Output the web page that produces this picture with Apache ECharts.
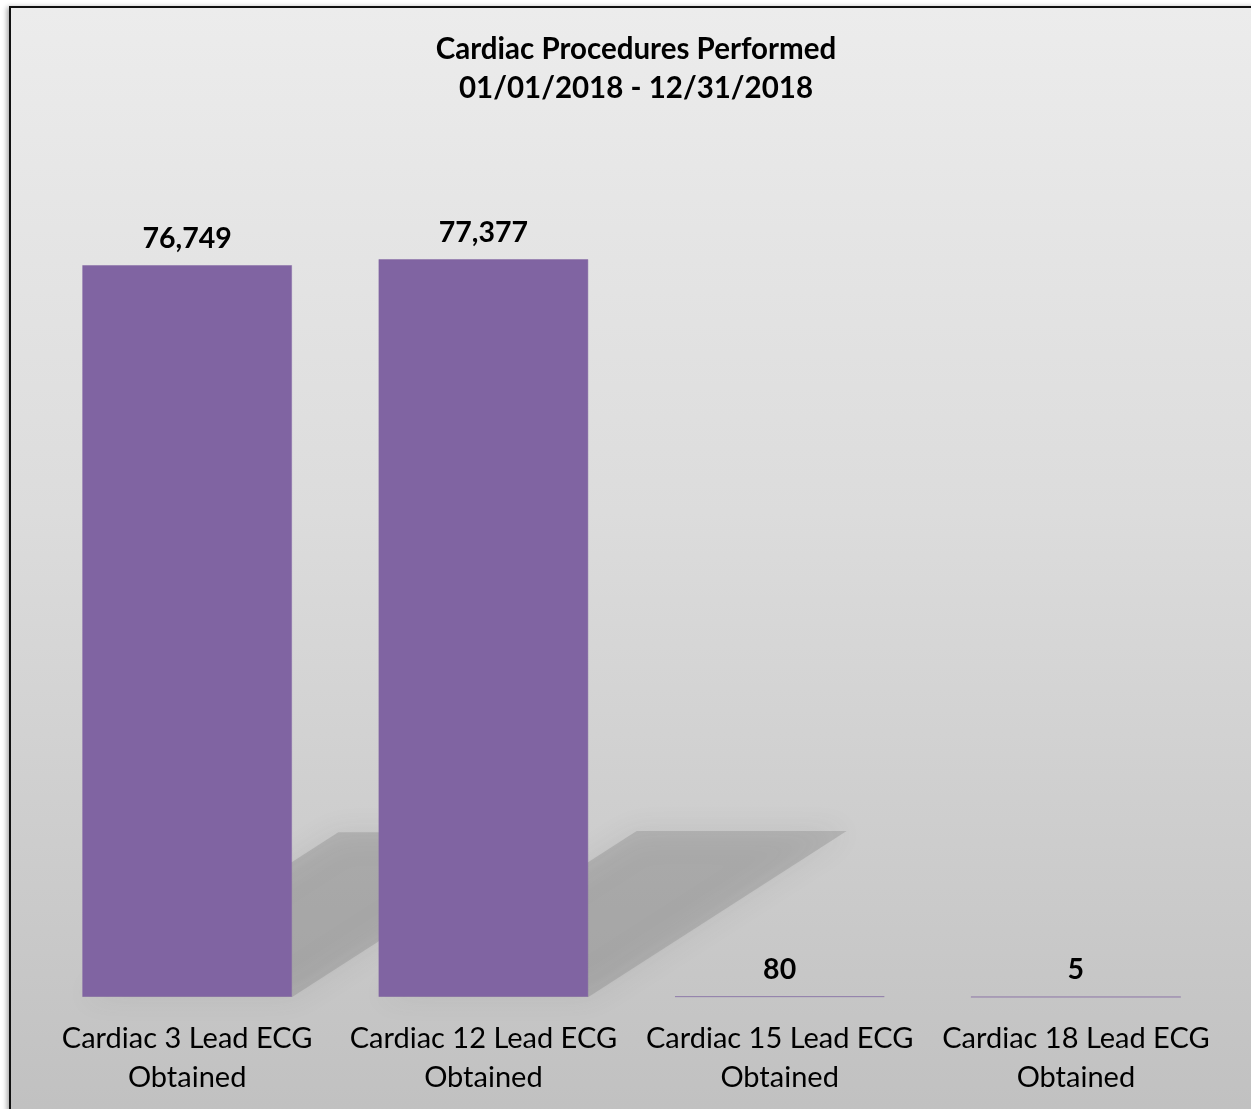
<!DOCTYPE html>
<html>
<head>
<meta charset="UTF-8">
<title>Cardiac Procedures Performed</title>
<script src="https://cdn.jsdelivr.net/npm/echarts@6/dist/echarts.min.js"></script>
<style>
  html, body { margin: 0; padding: 0; background: #fff; overflow: hidden; }
  #frame {
    position: absolute; left: 9px; top: 6px; width: 1260px; height: 1120px;
    border-left: 2px solid #111; border-top: 2px solid #111;
    background: linear-gradient(to bottom, #ececec 0%, #dcdcdc 45%, #c0c0c0 100%);
    box-shadow: -2px 1px 5px rgba(0,0,0,0.35);
  }
  #main { position: absolute; left: 0; top: 0; width: 1251px; height: 1109px; }
</style>
</head>
<body>
<div id="frame"></div>
<div id="main"></div>
<script>
  const categories = [
    'Cardiac 3 Lead ECG\nObtained',
    'Cardiac 12 Lead ECG\nObtained',
    'Cardiac 15 Lead ECG\nObtained',
    'Cardiac 18 Lead ECG\nObtained'
  ];
  const counts = [76749, 77377, 80, 5];
  const titleLines = ['Cardiac Procedures Performed', '01/01/2018 - 12/31/2018'];

  const FONT = 'Lato, "Open Sans", sans-serif';
  const BAR_W = 210;

  const chart = echarts.init(document.getElementById('main'), null, { renderer: 'canvas' });

  // floor shadow cast by each bar (skewed up and to the right)
  function renderShadow(params, api) {
    const idx = api.value(0);
    const base = api.coord([idx, 0]);
    const top = api.coord([idx, api.value(1)]);
    const h = base[1] - top[1];
    const dx = h * 0.35, dy = h * 0.225;
    const x0 = base[0] - BAR_W / 2, x1 = base[0] + BAR_W / 2;
    return {
      type: 'polygon',
      shape: { points: [[x0, base[1]], [x1, base[1]], [x1 + dx, base[1] - dy], [x0 + dx, base[1] - dy]] },
      style: { fill: 'rgba(80,80,80,0.2)', shadowBlur: 28, shadowColor: 'rgba(80,80,80,0.5)' }
    };
  }

  chart.setOption({
    backgroundColor: 'transparent',
    animation: false,
    title: {
      text: titleLines.join('\n'),
      left: 631,
      top: 25,
      textAlign: 'center',
      textStyle: { fontFamily: FONT, fontSize: 29.5, fontWeight: 'bold', color: '#000', lineHeight: 39 }
    },
    grid: { left: 39, right: 27, top: 234, bottom: 112 },
    xAxis: {
      type: 'category',
      data: categories,
      axisLine: { show: false },
      axisTick: { show: false },
      axisLabel: {
        margin: 22,
        fontFamily: FONT, fontSize: 29, color: '#000', lineHeight: 39, interval: 0
      }
    },
    yAxis: { type: 'value', min: 0, max: 80000, show: false, splitLine: { show: false } },
    series: [
      {
        type: 'custom',
        renderItem: renderShadow,
        data: counts.map((v, i) => [i, v]),
        z: 1,
        silent: true
      },
      {
        type: 'bar',
        data: counts,
        barWidth: BAR_W,
        z: 2,
        itemStyle: { color: '#8064A2', borderColor: 'rgba(128,100,162,0.45)', borderWidth: 1 },
        label: {
          show: true,
          position: 'top',
          distance: 12,
          fontFamily: FONT, fontSize: 28.5, fontWeight: 'bold', color: '#000',
          formatter: p => p.value.toLocaleString('en-US')
        }
      }
    ]
  });
</script>
</body>
</html>
